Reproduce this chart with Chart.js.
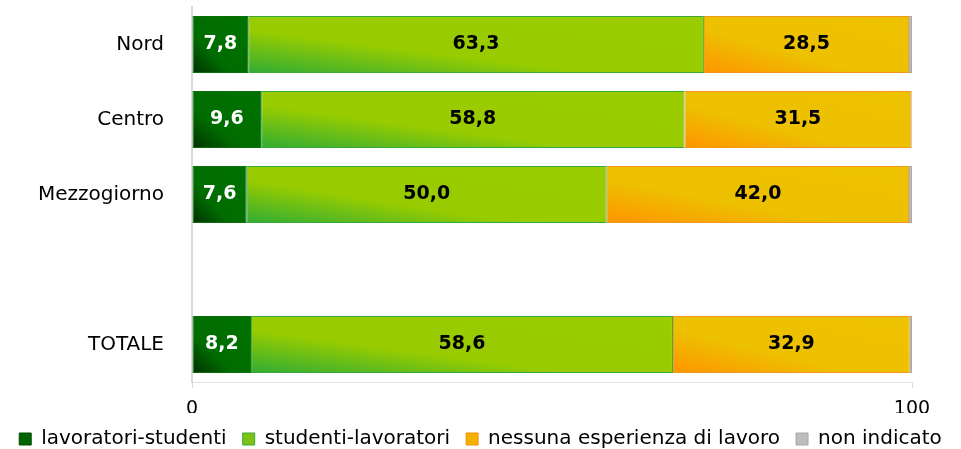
<!DOCTYPE html>
<html>
<head>
<meta charset="utf-8">
<script src="https://cdn.jsdelivr.net/npm/chart.js@4.4.0/dist/chart.umd.min.js"></script>
<style>
  html, body { margin: 0; padding: 0; background: #fff; }
  #wrap { width: 961px; height: 449px; }
</style>
</head>
<body>
<div id="wrap"><canvas id="myChart" width="961" height="449"></canvas></div>
<script>
// dati (la riga vuota separa il totale)
const categories = ['Nord', 'Centro', 'Mezzogiorno', '', 'TOTALE'];
const lavoratoriStudenti = [7.8, 9.6, 7.6, null, 8.2];
const studentiLavoratori = [63.3, 58.8, 50.0, null, 58.6];
const nessunaEsperienza = [28.5, 31.5, 42.0, null, 32.9];
const nonIndicato = [0.4, 0.1, 0.4, null, 0.3];
const xTicks = [0, 100];

const seriesNames = ['lavoratori-studenti', 'studenti-lavoratori', 'nessuna esperienza di lavoro', 'non indicato'];
const allSeries = [lavoratoriStudenti, studentiLavoratori, nessunaEsperienza, nonIndicato];

const BAR_PCT = 0.76;
const FONT = "'DejaVu Sans', sans-serif";

// gradiente diagonale (angolo in basso a sinistra -> in alto a destra), stile Excel
const palette = [
    { stops: [[0, '#003000'], [0.35, '#006c00'], [1, '#007200']], border: '#0b6e0b', legend: '#006400', legendBorder: '#004d00' },
    { stops: [[0, '#30ac34'], [0.38, '#99cc00'], [1, '#9acc00']], border: '#3aaa36', legend: '#7cc214', legendBorder: '#3aaa36' },
    { stops: [[0, '#ff9400'], [0.38, '#edc000'], [1, '#edc200']], border: '#f0981c', legend: '#f6b000', legendBorder: '#f09010' },
    { stops: [[0, '#a8a8a8'], [1, '#c4c4c4']], border: '#aaaaaa', legend: '#bdbdbd', legendBorder: '#a6a6a6' }
];

function barBox(chart, di, i) {
    const xs = chart.scales.x, ys = chart.scales.y;
    let start = 0;
    for (let k = 0; k < di; k++) start += allSeries[k][i] || 0;
    const end = start + (allSeries[di][i] || 0);
    const slot = ys.getPixelForValue(1) - ys.getPixelForValue(0);
    const cy = ys.getPixelForValue(i);
    const h = slot * BAR_PCT;
    return { x0: xs.getPixelForValue(start), x1: xs.getPixelForValue(end), y0: cy - h / 2, y1: cy + h / 2 };
}

function gradientFor(di) {
    return function (context) {
        const chart = context.chart;
        const p = palette[di];
        if (!chart.chartArea || context.dataIndex === undefined || !chart.scales.y) return p.stops[1][1];
        const b = barBox(chart, di, context.dataIndex);
        const W = Math.max(b.x1 - b.x0, 1), H = b.y1 - b.y0;
        // f = (x-x0)/W + (y1-y)/H  ->  t = f/2
        const dx = 1 / W, dy = -1 / H;
        const k = 2 / (dx * dx + dy * dy);
        const g = chart.ctx.createLinearGradient(b.x0, b.y1, b.x0 + k * dx, b.y1 + k * dy);
        p.stops.forEach(s => g.addColorStop(s[0], s[1]));
        return g;
    };
}

// etichette dei valori dentro le barre
const valueLabels = {
    id: 'valueLabels',
    afterDatasetsDraw(chart) {
        const ctx = chart.ctx;
        ctx.save();
        ctx.font = "bold 19px 'DejaVu Sans', sans-serif";
        ctx.textAlign = 'center';
        ctx.textBaseline = 'middle';
        for (let di = 0; di < 3; di++) {
            chart.getDatasetMeta(di).data.forEach((bar, i) => {
                const v = allSeries[di][i];
                if (v === null) return;
                ctx.fillStyle = di === 0 ? '#ffffff' : '#000000';
                ctx.fillText(v.toFixed(1).replace('.', ','), (bar.base + bar.x) / 2, bar.y);
            });
        }
        ctx.restore();
    }
};

const ctx = document.getElementById('myChart');

new Chart(ctx, {
    type: 'bar',
    data: {
        labels: categories,
        datasets: allSeries.map((arr, di) => ({
            label: seriesNames[di],
            data: arr,
            backgroundColor: gradientFor(di),
            borderColor: palette[di].border,
            borderWidth: 1,
            borderSkipped: false,
            barPercentage: BAR_PCT,
            categoryPercentage: 1
        }))
    },
    options: {
        indexAxis: 'y',
        responsive: false,
        animation: false,
        layout: { padding: { top: 7, right: 0, bottom: -10, left: 0 } },
        scales: {
            x: {
                stacked: true,
                min: 0,
                max: 100,
                afterBuildTicks: (s) => { s.ticks = xTicks.map(v => ({ value: v })); },
                afterFit: (s) => { s.height = 31; },
                grid: { drawOnChartArea: false, drawTicks: true, tickLength: 6, color: '#d9d9d9' },
                border: { display: true, color: '#e2e2e2' },
                ticks: { color: '#000', padding: 10, font: { family: FONT, size: 19 } }
            },
            y: {
                stacked: true,
                afterFit: (s) => { s.width = 192; s.paddingTop = 0; s.paddingBottom = 0; },
                grid: { display: false },
                border: { display: true, color: '#d9d9d9', width: 2 },
                ticks: { color: '#000', padding: 20, font: { family: FONT, size: 20 } }
            },
            // margine destro vuoto, così la legenda resta su una riga
            yRight: {
                type: 'category',
                position: 'right',
                labels: categories,
                afterFit: (s) => { s.width = 49; s.paddingTop = 0; s.paddingBottom = 0; },
                grid: { display: false },
                border: { display: false },
                ticks: { display: false }
            }
        },
        plugins: {
            tooltip: { enabled: false },
            legend: {
                position: 'bottom',
                labels: {
                    font: { family: FONT, size: 20 },
                    color: '#000',
                    boxWidth: 12,
                    boxHeight: 12,
                    padding: 16,
                    generateLabels: () => seriesNames.map((n, di) => ({
                        text: n,
                        fillStyle: palette[di].legend,
                        strokeStyle: palette[di].legendBorder,
                        lineWidth: 1,
                        datasetIndex: di
                    }))
                }
            }
        }
    },
    plugins: [valueLabels]
});
</script>
</body>
</html>
